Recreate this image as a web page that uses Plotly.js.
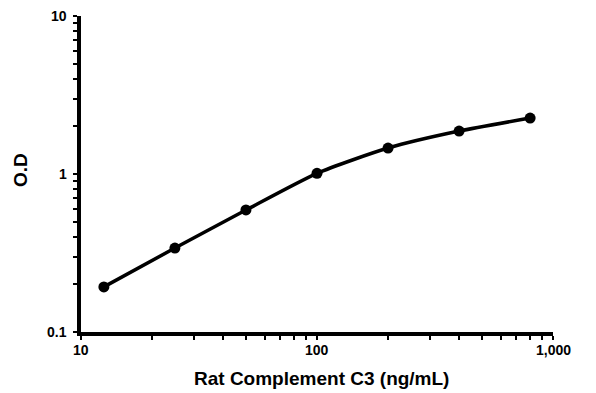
<!DOCTYPE html>
<html><head><meta charset="utf-8">
<script src="https://cdn.plot.ly/plotly-3.0.1.min.js"></script>
<style>html,body{margin:0;padding:0;background:#fff}#c{width:596px;height:393px}</style>
</head><body><div id="c"></div>
<script>
const concentration = [12.5, 25, 50, 100, 200, 400, 800];
const od = [0.193, 0.340, 0.592, 1.01, 1.46, 1.87, 2.26];
const xTickVals = [10, 100, 1000];
const xTickText = ["10", "100", "1,000"];
const yTickVals = [0.1, 1, 10];
const yTickText = ["0.1", "1", "10"];
const xTitle = "Rat Complement C3 (ng/mL)";
const yTitle = "O.D";

// tick marks at every 1..9 step of each decade
function allTicks(vals) {
  const tv = [];
  for (let i = 0; i < vals.length; i++) {
    tv.push(vals[i]);
    if (i < vals.length - 1) for (let k = 2; k <= 9; k++) tv.push(vals[i] * k);
  }
  return tv;
}

const trace = {
  x: concentration, y: od, mode: 'lines+markers', type: 'scatter',
  line: {color: '#000', width: 3.5, shape: 'spline', smoothing: 0.6},
  marker: {color: '#000', size: 11},
  cliponaxis: false
};
const FAM = 'Liberation Sans, Arial, sans-serif';
const bf = s => ({family: FAM, size: s, color: '#000', weight: 'bold'});

const annotations = [];
xTickVals.forEach((v, i) => annotations.push({
  xref: 'x', yref: 'paper', x: Math.log10(v), y: 0, yshift: -18,
  xanchor: 'center', yanchor: 'middle', showarrow: false,
  text: '<b>' + xTickText[i] + '</b>', font: bf(14)
}));
yTickVals.forEach((v, i) => annotations.push({
  xref: 'paper', yref: 'y', x: 0, y: Math.log10(v), xshift: -12,
  xanchor: 'right', yanchor: 'middle', showarrow: false,
  text: '<b>' + yTickText[i] + '</b>', font: bf(14)
}));
annotations.push({
  xref: 'paper', yref: 'paper', x: 0.5, y: 0, xshift: 4, yshift: -46,
  xanchor: 'center', yanchor: 'middle', showarrow: false,
  text: '<b>' + xTitle + '</b>', font: bf(19)
});
annotations.push({
  xref: 'paper', yref: 'paper', x: 0, y: 0.5, xshift: -61, yshift: 4,
  xanchor: 'center', yanchor: 'middle', showarrow: false, textangle: -90,
  text: '<b>' + yTitle + '</b>', font: bf(19)
});

const layout = {
  width: 596, height: 393,
  margin: {l: 81, r: 43, t: 16, b: 61},
  paper_bgcolor: '#fff', plot_bgcolor: '#fff',
  showlegend: false,
  font: {family: FAM, size: 14, color: '#000'},
  xaxis: {
    type: 'log', range: [1, 3],
    tickmode: 'array', tickvals: allTicks(xTickVals), showticklabels: false,
    showgrid: false, zeroline: false,
    showline: true, linecolor: '#000', linewidth: 4,
    ticks: 'outside', ticklen: 4, tickwidth: 2, tickcolor: '#000'
  },
  yaxis: {
    type: 'log', range: [-1, 1],
    tickmode: 'array', tickvals: allTicks(yTickVals), showticklabels: false,
    showgrid: false, zeroline: false,
    showline: true, linecolor: '#000', linewidth: 4,
    ticks: 'outside', ticklen: 4, tickwidth: 2, tickcolor: '#000'
  },
  annotations: annotations
};
Plotly.newPlot('c', [trace], layout, {displayModeBar: false, staticPlot: true});
</script>
</body></html>
